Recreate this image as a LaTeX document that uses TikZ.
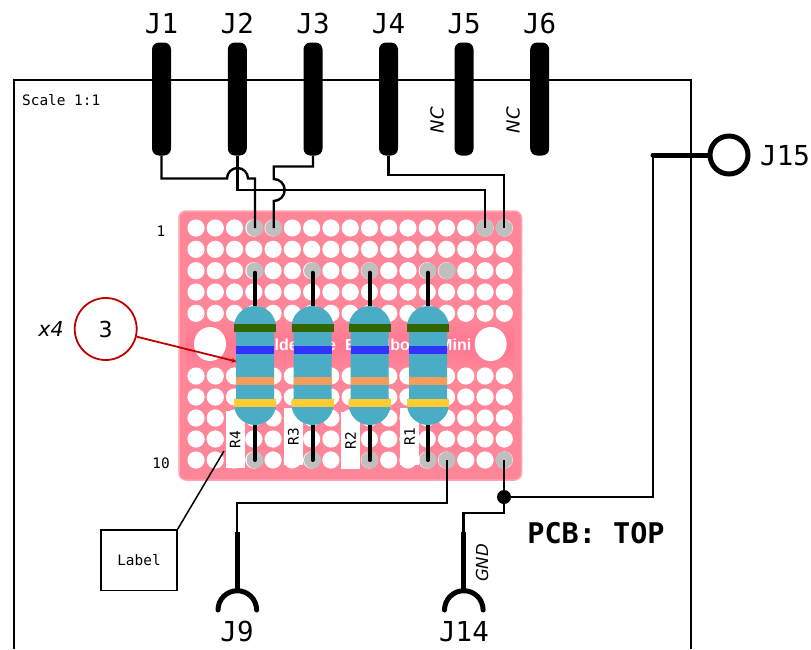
\documentclass[tikz,border=0pt]{standalone}
\usepackage{fontspec}
\setmainfont{DejaVu Sans}
\setmonofont{DejaVu Sans Mono}
\newfontfamily\boardfont{Liberation Sans}
\usepackage{xcolor}
\usetikzlibrary{arrows.meta, positioning, calc}
\definecolor{boardpink}{HTML}{FF8598}
\definecolor{boardmid}{HTML}{FF7791}
\definecolor{boardedge}{HTML}{FFA5AC}
\definecolor{padgrey}{HTML}{BFBFBF}
\definecolor{bodyblue}{HTML}{4BACC6}
\definecolor{bandgreen}{HTML}{336600}
\definecolor{bandblue}{HTML}{3333FF}
\definecolor{bandorange}{HTML}{F59E5C}
\definecolor{bandyellow}{HTML}{FFCC33}
\definecolor{calloutred}{HTML}{C00000}
\tikzset{
	pin/.style={fill=black, rectangle, rounded corners=7pt, minimum width=19pt, minimum height=113pt, inner sep=0pt},
	jlabel/.style={font=\ttfamily\fontsize{27.5}{30}\selectfont, inner sep=0pt, anchor=base},
	smalllabel/.style={font=\ttfamily\fontsize{14.4}{16}\selectfont, inner sep=0pt},
	nclabel/.style={font=\itshape\fontsize{18}{20}\selectfont, rotate=90, inner sep=0pt},
	rlabel/.style={font=\ttfamily\fontsize{14.4}{16}\selectfont, fill=white, rotate=90, minimum width=57pt, minimum height=19pt, inner sep=0pt},
	wire/.style={line width=2.4pt},
	thickwire/.style={line width=5pt},
	lead/.style={line width=4pt, line cap=round},
	pad/.style={circle, fill=padgrey, minimum size=17pt, inner sep=0pt}
}
\begin{document}
\begin{tikzpicture}[x=1pt,y=-1pt]
	\useasboundingbox (0,0) rectangle (811,649);

	\draw[line width=2pt] (13.5,649) -- (13.5,80) -- (691,80) -- (691,649);
	\node[smalllabel, anchor=west] (scale) at (22,100) {Scale 1:1};

	\fill[boardpink, draw=boardedge, line width=1.5pt, rounded corners=7pt] (179,211) rectangle (521.5,480);
	\shade[top color=boardpink, bottom color=boardpink, middle color=boardmid] (186,322) rectangle (514,368);
	\foreach \ypos in {228,249.3,270.7,292,313.3,376,397,418,439,460}
		\foreach \i in {0,...,16}
			\fill[white] ({196+19.27*\i},\ypos) circle (8.6);
	\fill[white] (210,344) ellipse (16 and 17);
	\fill[white] (490.7,344) ellipse (16 and 17);
	\node[text=white, inner sep=0pt, anchor=west, font=\boardfont\bfseries\fontsize{16}{18}\selectfont] (boardtext) at (254,345) {Solderable\hspace{9pt}Breadboard Mini};

	\node[pad] (t1) at (255,228) {};
	\node[pad] (t2) at (273.7,228) {};
	\node[pad] (t3) at (485,228) {};
	\node[pad] (t4) at (504,228) {};
	\node[pad] (m1) at (255,270.7) {};
	\node[pad] (m2) at (312.5,270.7) {};
	\node[pad] (m3) at (369.7,270.7) {};
	\node[pad] (m4) at (428,270.7) {};
	\node[pad] (m5) at (447,270.7) {};
	\node[pad] (b1) at (255,460) {};
	\node[pad] (b2) at (312.5,460) {};
	\node[pad] (b3) at (369.7,460) {};
	\node[pad] (b4) at (428,460) {};
	\node[pad] (b5) at (447,460) {};
	\node[pad] (b6) at (504,460) {};

	\node[rlabel] (r4) at (235,439.5) {R4};
	\node[rlabel] (r3) at (293.3,436.5) {R3};
	\node[rlabel] (r2) at (350.5,440.5) {R2};
	\node[rlabel] (r1) at (409.5,436.5) {R1};

	\foreach \top/\bot in {m1/b1, m2/b2, m3/b3, m4/b4}{
		\draw[lead] (\top.center) ++(0,2) -- (\bot.center);
		\begin{scope}[shift={(\top.center |- 0,0)}]
			\fill[bodyblue] (-21,327) arc[start angle=180, end angle=360, radius=21] -- (21,330) -- (19,333) -- (19,398) -- (21,401) -- (21,404) arc[start angle=0, end angle=180, radius=21] -- (-21,401) -- (-19,398) -- (-19,333) -- (-21,330) -- cycle;
			\fill[bandgreen] (-21,323.5) rectangle (21,332);
			\fill[bandblue] (-19,346) rectangle (19,354);
			\fill[bandorange] (-19,376.5) rectangle (19,384.5);
			\fill[bandyellow] (-21,399) rectangle (21,407);
		\end{scope}
	}

	\node[pin] (p1) at (161.5,99) {};
	\node[pin] (p2) at (237.3,99) {};
	\node[pin] (p3) at (313,99) {};
	\node[pin] (p4) at (388.5,99) {};
	\node[pin] (p5) at (464,99) {};
	\node[pin] (p6) at (539.7,99) {};
	\foreach \n/\xpos in {1/161.5,2/237.3,3/313,4/388.5,5/464,6/539.7}
		\node[jlabel] (J\n) at (\xpos,33.5) {J\n};
	\node[nclabel] (nc5) at (437,120) {NC};
	\node[nclabel] (nc6) at (513,120) {NC};

	\coordinate (jumpa) at (227,178.5);
	\coordinate (jumpb) at (273.7,179);
	\draw[wire] (p1.south) |- (jumpa) arc[start angle=180, end angle=360, radius=10.5] -- (t1.center |- 0,178.5) -- (t1.center);
	\draw[wire] (p2.south) |- (t3.center |- 0,190) -- (t3.center);
	\draw[wire] (p3.south) |- (t2.center |- 0,166.5) -- (jumpb) arc[start angle=-90, end angle=90, radius=11] -- (t2.center);
	\draw[wire] (p4.south) |- (t4.center |- 0,175) -- (t4.center);

	\node[circle, fill=black, minimum size=14pt, inner sep=0pt] (dot) at (504,497) {};
	\draw[wire] (b6.center) -- (dot);

	\coordinate (stubA) at (237,532);
	\coordinate (stubB) at (463.5,532);
	\coordinate (sockA) at (237,589);
	\coordinate (sockB) at (463.5,589);
	\draw[wire] (b5.center) |- (stubA |- 0,503) -- (stubA);
	\draw[wire] (dot) |- (stubB |- 0,513) -- (stubB);
	\draw[thickwire] (stubA) -- (sockA);
	\draw[thickwire] (stubB) -- (sockB);
	\draw[thickwire, line cap=round] (218,610) arc[start angle=180, end angle=360, radius=19.3];
	\draw[thickwire, line cap=round] (444.5,610) arc[start angle=180, end angle=360, radius=19.3];
	\node[jlabel] (J9) at (237,641.5) {J9};
	\node[jlabel] (J14) at (464,641.5) {J14};
	\node[nclabel, font=\itshape\fontsize{16.5}{18}\selectfont] (gnd) at (482,563) {GND};

	\node[circle, draw=black, line width=5pt, minimum size=38pt, inner sep=0pt] (ring) at (729,155) {};
	\coordinate (stubC) at (653,155);
	\draw[thickwire, line cap=round] (stubC) -- (ring);
	\draw[wire] (dot) -| (stubC);
	\node[jlabel, anchor=base west] (J15) at (760,165) {J15};

	\node[font=\ttfamily\bfseries\fontsize{28.5}{30}\selectfont, inner sep=0pt] (pcb) at (596,533) {PCB: TOP};

	\node[smalllabel] (one) at (161,231) {1};
	\node[smalllabel] (ten) at (161,463) {10};

	\node[draw=calloutred, circle, line width=1.8pt, minimum size=62pt, inner sep=0pt, font=\fontsize{22}{24}\selectfont] (callout) at (105.7,329) {3};
	\node[inner sep=0pt, font=\itshape\fontsize{20.5}{22}\selectfont] (times) at (51,329) {x4};
	\coordinate (calloutend) at (236.5,361.5);
	\draw[calloutred, line width=1.8pt, -{Stealth[length=5pt,width=5pt]}] (callout) -- (calloutend);

	\node[draw, line width=1.5pt, minimum width=76pt, minimum height=60.5pt, inner sep=0pt, font=\ttfamily\fontsize{14.4}{16}\selectfont] (labelbox) at (139,560) {Label};
	\coordinate (leaderend) at (224,451);
	\draw[line width=1.5pt] (labelbox.north east) -- (leaderend);
\end{tikzpicture}
\end{document}
